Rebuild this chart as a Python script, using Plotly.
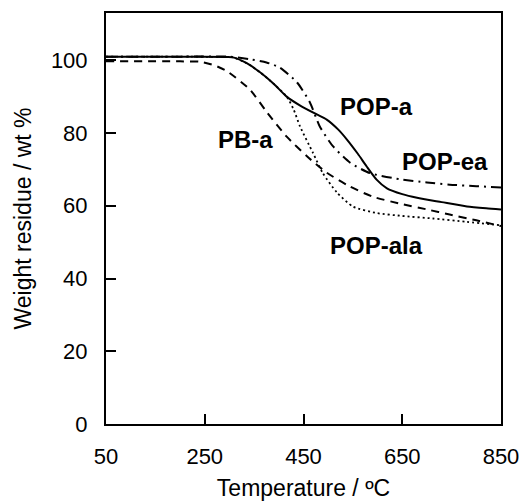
import plotly.graph_objects as go

# TGA curves (temperature in degC, residue in wt %)
pop_a_t = [50, 200, 295, 307, 335, 362, 390, 416, 445, 477, 497, 520, 538, 560, 578, 598, 619, 650, 680, 730, 781, 820, 850]
pop_a_w = [101, 101, 100.9, 100.8, 99.2, 96.7, 93.5, 90.0, 87.4, 85.1, 83.7, 81.0, 78.2, 74.3, 70.8, 67.2, 64.8, 63.2, 62.2, 61.0, 59.8, 59.3, 59.0]

pb_a_t = [50, 200, 240, 270, 295, 341, 376, 416, 457, 497, 544, 590, 645, 700, 746, 800, 850]
pb_a_w = [99.7, 99.7, 99.6, 98.6, 97.0, 92.0, 85.7, 79.0, 73.6, 69.1, 65.3, 62.5, 60.6, 59.0, 57.6, 56.0, 54.4]

pop_ala_t = [50, 200, 295, 307, 335, 362, 390, 416, 430, 443, 469, 489, 518, 550, 598, 650, 712, 780, 850]
pop_ala_w = [101, 101, 100.9, 100.8, 99.2, 96.7, 93.5, 90.0, 86.5, 81.8, 74.6, 69.0, 63.6, 59.8, 58.0, 57.2, 56.5, 55.6, 54.6]

pop_ea_t = [50, 200, 300, 341, 375, 402, 437, 463, 483, 510, 544, 584, 645, 700, 746, 800, 850]
pop_ea_w = [101, 101, 101, 100.3, 99.4, 98.0, 93.9, 88.4, 81.8, 76.3, 71.9, 69.0, 67.3, 66.4, 65.8, 65.4, 65.0]

labels = ["POP-a", "PB-a", "POP-ea", "POP-ala"]
label_x = [598, 333, 736, 597]
label_y = [87.3, 78.2, 72.2, 49.0]

x_ticks = [50, 250, 450, 650, 850]
y_ticks = [0, 20, 40, 60, 80, 100]

font_name = "Liberation Sans, Arial"

fig = go.Figure()
fig.add_trace(go.Scatter(x=pop_a_t, y=pop_a_w, mode="lines", line=dict(color="black", width=2, shape="spline", smoothing=0.6)))
fig.add_trace(go.Scatter(x=pb_a_t, y=pb_a_w, mode="lines", line=dict(color="black", width=2, dash="8px,6px", shape="spline", smoothing=0.6)))
fig.add_trace(go.Scatter(x=pop_ala_t, y=pop_ala_w, mode="lines", line=dict(color="black", width=1.8, dash="2px,3px", shape="spline", smoothing=0.6)))
fig.add_trace(go.Scatter(x=pop_ea_t, y=pop_ea_w, mode="lines", line=dict(color="black", width=2, dash="10px,5px,2px,5px", shape="spline", smoothing=0.6)))

for txt, xx, yy in zip(labels, label_x, label_y):
    fig.add_annotation(x=xx, y=yy, text="<b>%s</b>" % txt, showarrow=False,
                       font=dict(family=font_name, size=24, color="black"))

axis_style = dict(showgrid=False, zeroline=False, showline=True, linecolor="black", linewidth=2,
                  mirror=True, ticks="inside", tickcolor="black", tickwidth=2, ticklen=10,
                  automargin=False, tickfont=dict(family=font_name, size=22, color="black"))

fig.update_xaxes(range=[50, 850], tickvals=x_ticks, ticklabelstandoff=12,
                 title=dict(text="Temperature / ºC", font=dict(family=font_name, size=23, color="black"), standoff=11),
                 **axis_style)
fig.update_yaxes(range=[0, 113], tickvals=y_ticks, ticklabelstandoff=12,
                 title=dict(text="Weight residue / wt %", font=dict(family=font_name, size=23, color="black"), standoff=13),
                 **axis_style)

fig.update_layout(width=531, height=501, showlegend=False,
                  plot_bgcolor="white", paper_bgcolor="white",
                  margin=dict(l=106, r=30, t=13, b=77))

# the page body has a default 8px margin; drop it so the figure sits at the top-left corner
fig.write_html("out.html", config={"displayModeBar": False},
               post_script="document.body.style.margin='0px';")
